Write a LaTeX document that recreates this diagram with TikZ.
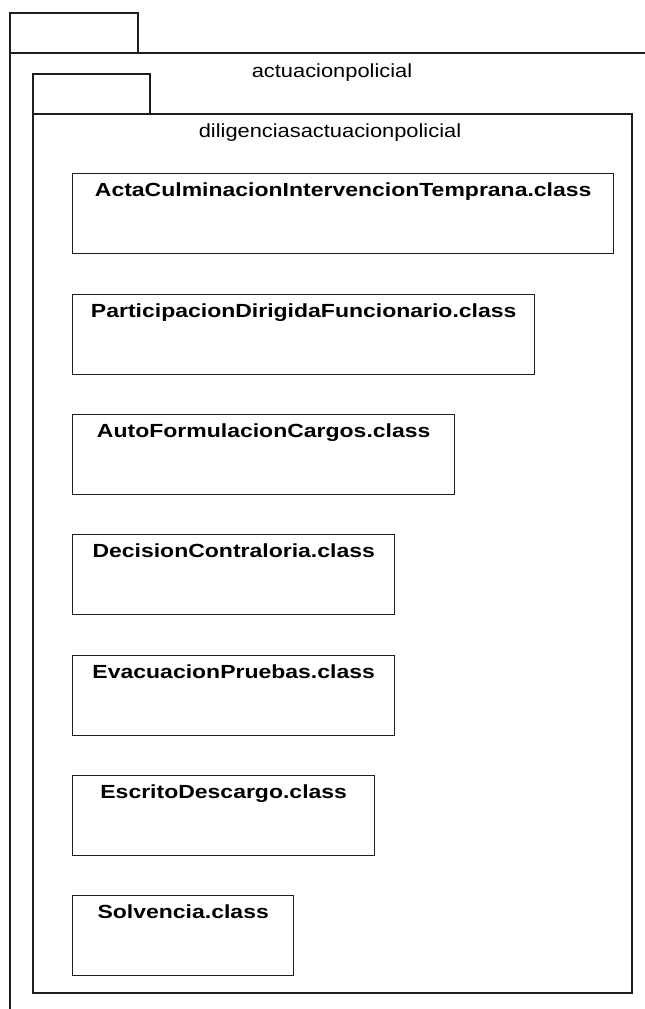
\documentclass[tikz,border=0pt]{standalone}
\usepackage{fontspec}
\setmainfont[FakeStretch=1.15, BoldFeatures={FakeStretch=1.21}]{Liberation Sans}
\usepackage{tikz}
\usetikzlibrary{positioning}
\definecolor{UMLLine}{RGB}{30,30,30}

\begin{document}
\begin{tikzpicture}[x=1pt, y=-1pt,
          pkgline/.style={draw=UMLLine, line width=1.4pt},
          pkgname/.style={anchor=base, inner sep=0pt, font=\fontsize{19}{22}\selectfont},
          classbox/.style={draw=UMLLine, line width=1.4pt, anchor=north west,
                           inner xsep=0pt, inner ysep=0pt, text height=23pt, text depth=57pt,
                           font=\bfseries\fontsize{19}{22}\selectfont}
        ]
        \useasboundingbox (0,0) rectangle (645,1009);

        % outer package
        \draw[pkgline] (10,53) rectangle (138,13);
        \draw[pkgline] (645,53) -- (10,53) -- (10,1009);
        \node[pkgname] (outername) at (332,77) {actuacionpolicial};

        % inner package
        \draw[pkgline] (33,114) rectangle (150,74);
        \draw[pkgline] (33,114) rectangle (632,993);
        \node[pkgname] (innername) at (330,137) {diligenciasactuacionpolicial};

        % classes
        \node[classbox, minimum width=541pt] (acta)   at (72,173) {ActaCulminacionIntervencionTemprana.class};
        \node[classbox, minimum width=462pt] (partic) at (72,294) {ParticipacionDirigidaFuncionario.class};
        \node[classbox, minimum width=382pt] (auto)   at (72,414) {AutoFormulacionCargos.class};
        \node[classbox, minimum width=322pt] (decis)  at (72,534) {DecisionContraloria.class};
        \node[classbox, minimum width=322pt] (evac)   at (72,655) {EvacuacionPruebas.class};
        \node[classbox, minimum width=302pt] (escr)   at (72,775) {EscritoDescargo.class};
        \node[classbox, minimum width=221pt] (solv)   at (72,895) {Solvencia.class};
      \end{tikzpicture}
\end{document}
